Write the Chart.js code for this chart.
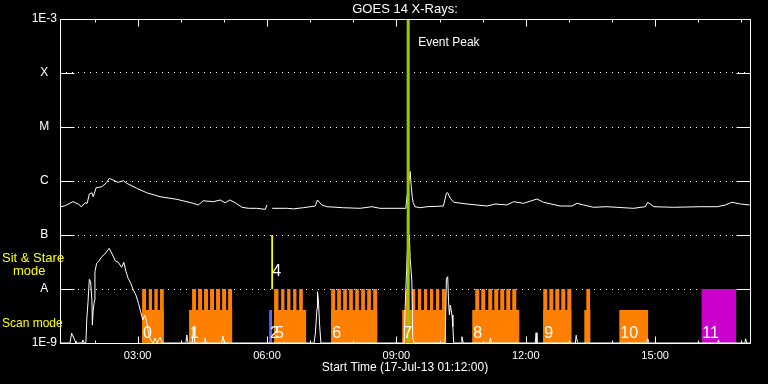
<!DOCTYPE html>
<html>
<head>
<meta charset="utf-8">
<script src="https://cdn.jsdelivr.net/npm/chart.js@4.4.1/dist/chart.umd.min.js"></script>
<style>
  html, body { margin: 0; padding: 0; background: #000; }
</style>
</head>
<body>
<canvas id="chart" width="768" height="384"></canvas>
<script>
// all times are decimal hours (UT) on 17-Jul-13
const longTimes = [1.20, 1.30, 1.50, 1.62, 1.70, 1.78, 1.83, 1.88, 1.94, 1.97, 2.04, 2.17, 2.28, 2.34, 2.43, 2.55, 2.67, 2.75, 2.98, 3.21,
  3.52, 3.91, 4.29, 4.41, 4.52, 4.76, 4.91, 5.03, 5.14, 5.26, 5.42, 5.57, 5.76, 5.96, 6.00, 6.06, 6.12, 6.47, 6.61, 6.84,
  7.12, 7.17, 7.27, 7.39, 7.77, 8.16, 8.43, 8.62, 9.22, 9.25, 9.32, 9.345, 9.37, 9.39, 9.43, 9.55, 9.71, 10.09, 10.16, 10.19,
  10.25, 10.33, 10.64, 11.10, 11.29, 11.56, 11.72, 11.95, 12.26, 12.41, 12.80, 13.07, 13.19, 13.34, 13.57, 13.88, 14.50, 14.77, 14.83, 14.97,
  15.43, 16.05, 16.44, 16.63, 16.78, 16.98, 17.19];
const longFlux = [3.34e-7, 3.44e-7, 4.14e-7, 3.75e-7, 3.34e-7, 3.96e-7, 3.86e-7, 5.74e-7, 6.06e-7, 5.12e-7, 7.52e-7, 7.84e-7, 9.30e-7, 1.12e-6, 1.04e-6, 9.46e-7, 1.01e-6, 9.06e-7, 7.33e-7, 6.06e-7,
  5.12e-7, 4.58e-7, 3.86e-7, 3.60e-7, 4.31e-7, 4.14e-7, 4.45e-7, 3.96e-7, 4.45e-7, 3.96e-7, 3.26e-7, 3.12e-7, 3.12e-7, 2.99e-7, 3.60e-7, null, 3.12e-7, 3.12e-7, 3.05e-7, 3.20e-7,
  3.44e-7, 4.45e-7, 3.60e-7, 3.34e-7, 3.20e-7, 3.12e-7, 3.34e-7, 3.12e-7, 3.12e-7, 5.50e-7, 1.50e-6, 8.00e-7, 4.90e-7, 4.00e-7, 3.34e-7, 3.20e-7, 3.34e-7, 3.44e-7, 5.91e-7, 6.06e-7,
  4.78e-7, 4.04e-7, 3.75e-7, 3.44e-7, 3.75e-7, 3.60e-7, 4.14e-7, 3.86e-7, 4.64e-7, 4.04e-7, 3.44e-7, 3.44e-7, 3.86e-7, 3.60e-7, 3.26e-7, 3.34e-7, 3.12e-7, 3.34e-7, 4.04e-7, 3.34e-7,
  3.26e-7, 3.34e-7, 3.34e-7, 3.60e-7, 4.04e-7, 3.75e-7, 3.60e-7];

const shortTimes = [1.20, 1.43, 1.47, 1.50, 1.55, 1.57, 1.71, 1.73, 1.76, 1.80, 1.82, 1.85, 1.88, 1.91, 1.94, 1.95, 1.97, 2.00, 2.01, 2.05,
  2.09, 2.17, 2.24, 2.34, 2.42, 2.48, 2.55, 2.63, 2.68, 2.73, 2.78, 2.84, 2.90, 2.96, 3.02, 3.07, 3.12, 3.17, 3.23, 3.27,
  3.33, 3.36, 3.40, 3.45, 3.52, 3.57, 4.12, 4.14, 4.17, 4.27, 4.29, 4.33, 4.54, 4.56, 4.59, 4.95, 4.98, 5.01, 7.09, 7.12,
  7.16, 7.17, 7.19, 7.22, 7.25, 9.18, 9.21, 9.26, 9.30, 9.32, 9.36, 9.38, 9.41, 10.13, 10.16, 10.19, 10.21, 10.23, 10.25, 10.29,
  10.31, 10.33, 10.50, 10.52, 10.55, 11.16, 11.18, 11.20, 12.22, 12.24, 12.26, 13.15, 13.17, 13.20, 14.80, 14.83, 14.86, 16.45, 16.47, 16.49,
  17.08, 17.10, 17.12, 17.20];
const shortFlux = [1e-9, 1e-9, 1.51e-9, 1.35e-9, 1.09e-9, 1e-9, 1e-9, 1.14e-9, 1e-9, 1e-9, 2.67e-9, 5.82e-9, 1.51e-8, 1.36e-8, 6.25e-9, 2.15e-9, 4.08e-9, 6.25e-9, 2.09e-8, 2.99e-8,
  3.20e-8, 3.96e-8, 4.45e-8, 5.67e-8, 4.26e-8, 3.34e-8, 3.12e-8, 2.52e-8, 3.12e-8, 2.09e-8, 1.58e-8, 1.28e-8, 9.58e-9, 7.74e-9, 5.43e-9, 3.80e-9, 2.67e-9, 3.30e-9, 2.00e-9, 1.31e-9,
  1.06e-9, 1e-9, 1.24e-9, 1e-9, 1.29e-9, 1e-9, 1e-9, 1.41e-9, 1e-9, 1e-9, 1.90e-9, 1e-9, 1e-9, 1.24e-9, 1e-9, 1e-9, 1.35e-9, 1e-9, 1e-9, 1.47e-9,
  4.39e-9, 8.91e-9, 6.53e-9, 2.15e-9, 1e-9, 1e-9, 6.25e-9, 6.53e-8, 1.0e-7, 3.70e-8, 1.36e-8, 1.22e-9, 1e-9, 1e-9, 1.58e-8, 1.69e-8, 5.82e-9, 3.30e-9, 5.06e-9, 3.30e-9,
  2.00e-9, 1e-9, 1e-9, 1.31e-9, 1e-9, 1e-9, 1.24e-9, 1e-9, 1e-9, 1.55e-9, 1e-9, 1e-9, 1.39e-9, 1e-9, 1e-9, 1.20e-9, 1e-9, 1e-9, 1.14e-9, 1e-9,
  1e-9, 1.20e-9, 1e-9, 1e-9];

// observing modes
const scanStart = [3.103, 4.193, 6.165, 7.488, 9.135, 10.759, 12.406, 13.358, 14.170];
const scanEnd   = [3.606, 5.191, 6.908, 8.555, 10.140, 11.850, 13.056, 13.497, 14.843];
const rasterStart = [3.103, 3.258, 3.388, 3.520,
  4.263, 4.402, 4.541, 4.680, 4.819, 4.959, 5.098,
  6.165, 6.328, 6.467, 6.606, 6.745,
  7.488, 7.627, 7.766, 7.905, 8.045, 8.184, 8.323, 8.462,
  9.221, 9.360, 9.499, 9.639, 9.778, 9.917, 10.056,
  10.829, 10.968, 11.130, 11.270, 11.409, 11.548, 11.687,
  12.406, 12.546, 12.685, 12.824, 12.963,
  13.404];
const rasterEnd = [3.196, 3.334, 3.467, 3.606,
  4.355, 4.495, 4.634, 4.773, 4.912, 5.052, 5.191,
  6.265, 6.404, 6.543, 6.683, 6.831,
  7.581, 7.713, 7.852, 7.991, 8.130, 8.270, 8.409, 8.555,
  9.297, 9.437, 9.576, 9.715, 9.854, 9.994, 10.140,
  10.922, 11.061, 11.223, 11.362, 11.502, 11.641, 11.780,
  12.499, 12.639, 12.778, 12.917, 13.056,
  13.497];
const otherStart = [6.049];
const otherEnd = [6.119];
const stareStart = [6.096];
const stareEnd = [6.142];
const fullStart = [16.072];
const fullEnd = [16.884];

const obsLabels = ['0', '1', '2', '5', '4', '6', '7', '8', '9', '10', '11'];
const obsTimes = [3.103, 4.193, 6.049, 6.165, 6.096, 7.488, 9.135, 10.759, 12.406, 14.170, 16.072];
const obsModes = ['scan', 'scan', 'scan', 'scan', 'stare', 'scan', 'scan', 'scan', 'scan', 'scan', 'scan'];

const eventPeak = 9.274;

const hourTicks = [2, 3, 4, 5, 6, 7, 8, 9, 10, 11, 12, 13, 14, 15, 16, 17];
const levelValues = [1e-9, 1e-8, 1e-7, 1e-6, 1e-5, 1e-4, 1e-3];
const levelLabels = ['1E-9', 'A', 'B', 'C', 'M', 'X', '1E-3'];

// band heights on the hidden mode axis (one unit = one decade)
const SCAN_TOP = 0.61;
const RASTER_TOP = 1;
const STARE_TOP = 2;

function band(starts, ends, low, high) {
  const pts = [];
  starts.forEach((s, i) => {
    pts.push({ x: s, y: low }, { x: s, y: high }, { x: ends[i], y: high }, { x: ends[i], y: low });
  });
  return pts;
}

function series(times, values) {
  return times.map((t, i) => ({ x: t, y: values[i] }));
}

const bandStyle = { yAxisID: 'y2', borderColor: 'rgba(0,0,0,0)', borderWidth: 0, pointRadius: 0, fill: 'origin' };
const curveStyle = { yAxisID: 'y', borderColor: '#fff', borderWidth: 1, pointRadius: 0, tension: 0, fill: false };

const overlay = {
  id: 'overlay',
  beforeDraw(chart) {
    const ctx = chart.ctx;
    ctx.save();
    ctx.fillStyle = '#000';
    ctx.fillRect(0, 0, chart.width, chart.height);
    ctx.restore();
  },
  afterDatasetsDraw(chart) {
    const { ctx, chartArea: a, scales: { x, y, y2 } } = chart;
    const L = Math.round(a.left) + 0.5, R = Math.round(a.right) + 0.5;
    const T = Math.round(a.top) + 0.5, B = Math.round(a.bottom) + 0.5;
    ctx.save();
    ctx.strokeStyle = '#fff';
    ctx.lineWidth = 1;
    ctx.beginPath();
    ctx.rect(L, T, R - L, B - T);
    hourTicks.forEach(h => {
      const px = Math.round(x.getPixelForValue(h)) + 0.5;
      const len = h % 3 === 0 ? 7 : 3;
      ctx.moveTo(px, B); ctx.lineTo(px, B - len);
      ctx.moveTo(px, T); ctx.lineTo(px, T + len);
    });
    levelValues.forEach(v => {
      const py = Math.round(y.getPixelForValue(v)) + 0.5;
      ctx.moveTo(L, py); ctx.lineTo(L + 14, py);
      ctx.moveTo(R - 14, py); ctx.lineTo(R, py);
    });
    ctx.stroke();

    ctx.fillStyle = '#fff';
    ctx.textBaseline = 'middle';
    ctx.font = '13px "Liberation Sans"';
    ctx.textAlign = 'center';
    ctx.fillText('GOES 14 X-Rays:', (a.left + a.right) / 2, 9);
    ctx.textAlign = 'left';
    ctx.font = '12px "Liberation Sans"';
    ctx.fillText('Event Peak', x.getPixelForValue(eventPeak) + 10, a.top + 24);

    ctx.font = '16px "Liberation Sans"';
    obsLabels.forEach((lab, i) => {
      const py = y2.getPixelForValue(obsModes[i] === 'stare' ? 1.33 : 0.18);
      ctx.fillText(lab, x.getPixelForValue(obsTimes[i]) + 1, py);
    });

    ctx.fillStyle = '#ff0';
    ctx.font = '13px "Liberation Sans"';
    ctx.fillText('Sit & Stare', 2, y2.getPixelForValue(1.57));
    ctx.fillText('mode', 13, y2.getPixelForValue(1.33));
    ctx.font = '12px "Liberation Sans"';
    ctx.fillText('Scan mode', 2, y2.getPixelForValue(0.35));
    ctx.restore();
  }
};

Chart.defaults.font.family = '"Liberation Sans", sans-serif';
Chart.defaults.color = '#fff';

new Chart(document.getElementById('chart').getContext('2d'), {
  type: 'line',
  data: {
    datasets: [
      { data: [{ x: eventPeak, y: 1e-9 }, { x: eventPeak, y: 1e-3 }], yAxisID: 'y', borderColor: '#99cc00', borderWidth: 3, pointRadius: 0, fill: false },
      Object.assign({ data: series(shortTimes, shortFlux) }, curveStyle),
      Object.assign({ data: series(longTimes, longFlux) }, curveStyle),
      Object.assign({ data: band(fullStart, fullEnd, 0, RASTER_TOP), backgroundColor: '#cc00cc' }, bandStyle),
      Object.assign({ data: band(rasterStart, rasterEnd, 0, RASTER_TOP), backgroundColor: '#ff8000' }, bandStyle),
      Object.assign({ data: band(scanStart, scanEnd, 0, SCAN_TOP), backgroundColor: '#ff8000' }, bandStyle),
      Object.assign({ data: band(otherStart, otherEnd, 0, SCAN_TOP), backgroundColor: '#6464ff' }, bandStyle),
      Object.assign({ data: band(stareStart, stareEnd, RASTER_TOP, STARE_TOP), backgroundColor: '#ffff00' }, bandStyle, { fill: { value: RASTER_TOP } })
    ]
  },
  options: {
    responsive: false,
    animation: false,
    events: [],
    layout: { padding: { top: 19, right: 18, left: 0, bottom: 0 } },
    plugins: { legend: { display: false }, tooltip: { enabled: false } },
    scales: {
      x: {
        type: 'linear', min: 1.2, max: 17.2,
        afterBuildTicks: s => { s.ticks = hourTicks.map(v => ({ value: v })); },
        afterFit: s => { s.height = 41; },
        grid: { display: false, drawTicks: false },
        border: { display: false },
        ticks: {
          color: '#fff', autoSkip: false, maxRotation: 0, padding: 6, font: { size: 11 },
          callback: v => (v % 3 === 0 ? String(v).padStart(2, '0') + ':00' : '')
        },
        title: { display: true, text: 'Start Time (17-Jul-13 01:12:00)', color: '#fff', font: { size: 12 }, padding: { top: 0, bottom: 9 } }
      },
      y: {
        type: 'logarithmic', min: 1e-9, max: 1e-3,
        afterBuildTicks: s => { s.ticks = levelValues.map(v => ({ value: v })); },
        afterFit: s => { s.width = 60; },
        grid: { color: '#fff', lineWidth: 1, drawTicks: false },
        border: { display: false, dash: [1, 5] },
        ticks: { color: '#fff', crossAlign: 'center', padding: 3, font: { size: 12 }, autoSkip: false, callback: (v, i) => levelLabels[i] }
      },
      y2: { type: 'linear', min: 0, max: 6, display: false }
    }
  },
  plugins: [overlay]
});
</script>
</body>
</html>
